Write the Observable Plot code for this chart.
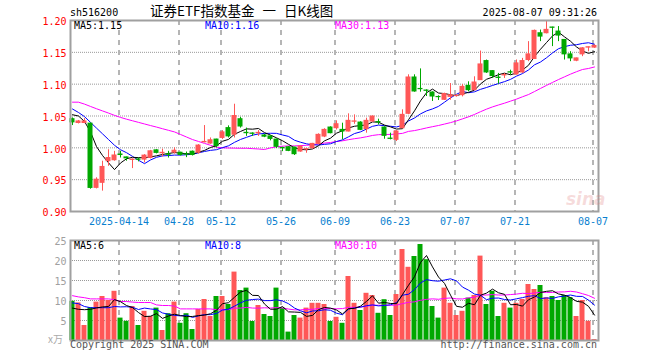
<!DOCTYPE html>
<html><head><meta charset="utf-8">
<script src="https://cdn.jsdelivr.net/npm/d3@7"></script>
<script src="https://cdn.jsdelivr.net/npm/@observablehq/plot@0.6"></script>
<style>
html,body{margin:0;padding:0;background:#fff;}
#wrap{position:relative;width:660px;height:360px;overflow:hidden;font-family:"DejaVu Sans Mono",monospace;font-size:10px;background:#fff;}
.t{position:absolute;white-space:pre;line-height:10px;}
#p1{position:absolute;left:0;top:0;}
#p2{position:absolute;left:0;top:230px;}
</style></head><body>
<div id="wrap">
  <div id="p1"></div>
  <div id="p2"></div>
</div>
<script>
// ---------- data ----------
const dates = ["04-01","04-02","04-03","04-07","04-08","04-09","04-10","04-11","04-14","04-15","04-16","04-17","04-18","04-21","04-22","04-23","04-24","04-25","04-28","04-29","04-30",
"05-06","05-07","05-08","05-09","05-12","05-13","05-14","05-15","05-16","05-19","05-20","05-21","05-22","05-23","05-26","05-27","05-28","05-29","05-30",
"06-03","06-04","06-05","06-06","06-09","06-10","06-11","06-12","06-13","06-16","06-17","06-18","06-19","06-20","06-23","06-24","06-25","06-26","06-27","06-30",
"07-01","07-02","07-03","07-04","07-07","07-08","07-09","07-10","07-11","07-14","07-15","07-16","07-17","07-18","07-21","07-22","07-23","07-24","07-25","07-28","07-29","07-30","07-31",
"08-01","08-04","08-05","08-06","08-07"];
const opens = [1.045,1.039,1.039,1.038,0.9371,0.945,0.979,0.9805,0.9895,0.985,0.981,0.9818,0.9815,0.9841,0.9961,0.9915,0.9896,0.9925,0.9923,0.9898,0.9939,
0.9923,1.0087,1.0067,1.013,1.0155,1.031,1.0206,1.045,1.0236,1.0225,1.0228,1.0195,1.018,1.013,0.9998,1.001,1.0004,0.9942,0.9975,
0.9994,1.0062,1.0177,1.0319,1.0308,1.0282,1.0256,1.041,1.0397,1.0293,1.0413,1.0405,1.0319,1.0145,1.0125,1.0308,1.0534,1.1105,1.0925,1.09,
1.0869,1.0799,1.0754,1.08,1.0813,1.0827,1.0974,1.0905,1.1063,1.1363,1.1205,1.1103,1.1137,1.1187,1.1153,1.1184,1.1379,1.1395,1.18,1.18,1.189,1.1826,1.1695,
1.1468,1.1368,1.1468,1.1574,1.1574];
const highs = [1.047,1.043,1.046,1.039,0.953,0.979,0.997,0.9945,0.9945,0.9855,0.9826,0.9841,0.9893,0.996,0.997,0.998,0.9945,1.0,0.993,0.9934,0.995,
1.005,1.035,1.0155,1.0135,1.027,1.0345,1.0685,1.048,1.031,1.0235,1.027,1.021,1.019,1.014,1.001,1.002,1.001,1.003,0.999,
1.007,1.022,1.03,1.033,1.0424,1.0387,1.0534,1.0518,1.041,1.0466,1.05,1.045,1.033,1.023,1.027,1.0597,1.1147,1.1147,1.124,1.0911,
1.088,1.0817,1.0859,1.101,1.0835,1.0995,1.1037,1.1116,1.152,1.1379,1.1212,1.1169,1.1169,1.122,1.138,1.1405,1.1668,1.185,1.185,1.1995,1.1895,1.1905,1.17,
1.151,1.141,1.1574,1.1584,1.1616];
const lows = [1.035,1.0375,1.038,0.935,0.9355,0.932,0.971,0.979,0.984,0.979,0.9674,0.978,0.9763,0.9826,0.9905,0.9857,0.984,0.99,0.9872,0.9846,0.9872,
0.99,1.0078,1.0055,1.0,1.013,1.0155,1.0155,1.031,1.018,1.018,1.018,1.016,1.011,0.999,0.994,0.994,0.988,0.993,0.9915,
0.998,1.005,1.016,1.022,1.028,1.0125,1.025,1.037,1.027,1.023,1.04,1.036,1.0135,1.0125,1.0099,1.03,1.052,1.0874,1.0874,1.0806,
1.0728,1.0743,1.0743,1.0748,1.08,1.08,1.088,1.0905,1.1063,1.1169,1.109,1.1,1.109,1.1142,1.1142,1.1169,1.1353,1.139,1.1668,1.179,1.159,1.1668,1.1379,
1.1353,1.1353,1.1432,1.151,1.1563];
const closes = [1.04,1.0415,1.0415,0.937,0.95,0.97,0.984,0.988,0.9887,0.9835,0.9815,0.9812,0.9878,0.9946,0.992,0.9922,0.989,0.9955,0.9887,0.9893,0.9887,
1.0036,1.0093,1.0119,1.0026,1.0243,1.018,1.05,1.0335,1.023,1.022,1.0235,1.0175,1.014,1.0016,0.9992,0.9952,0.99,1.002,0.998,
1.0062,1.0204,1.0282,1.023,1.0371,1.0256,1.0424,1.0415,1.0282,1.0424,1.0492,1.04,1.0188,1.014,1.0256,1.0518,1.1105,1.0885,1.0921,1.0895,
1.0806,1.0796,1.0845,1.0827,1.0818,1.0958,1.0905,1.1026,1.131,1.1184,1.1127,1.1098,1.1145,1.1182,1.1326,1.1363,1.1468,1.1837,1.1747,1.1853,1.1885,1.1763,1.1468,
1.1405,1.1405,1.1563,1.158,1.16];
const volumes = [9.8,9.4,3.75,8.2,9.6,11,10,12.3,5.6,4.8,8.5,3.75,7.3,6,8.1,2.5,6.7,9.6,4.3,6.7,2.75,
7.75,10.25,6,11,11,9,17.1,12.5,13.1,4.75,8.75,6.5,6,13.1,8.1,2.1,6.25,5.6,8.1,
9.3,9.3,9,4.75,5.8,4.3,16,9.3,7.5,11.8,11.25,6.8,10.2,6.25,11.5,22.75,18.3,21,24,20.2,
8.5,5.6,13.1,9.3,6.25,7.3,10.6,11.25,21.1,9,12.3,6,9.3,8.1,9.3,10.25,14,12.75,13.75,10.7,11,10,11.25,
10.7,6,10,4.8,0.25];
// moving-average values for days whose window reaches before 04-01
const priceMA5Head = [1.052,1.050,1.0415,1.025];
const priceMA10Head = [1.061,1.0555,1.049,1.040,1.031,1.022,1.013,1.004,0.997];
const priceMA30Head = [1.0717,1.0717,1.0687,1.065,1.0614,1.058,1.0546,1.051,1.0478,1.045,1.0425,1.040,1.0375,1.035,1.0326,1.030,1.0275,1.025,1.021,1.017,1.013,1.010,1.007,1.004,1.001,1.000,0.9997,0.9995,0.9993];
const volMA5Head = [8.1,7.8,7.7,7.8];
const volMA10Head = [9.4,9.2,8.5,8.2,8.2,8.2,8.2,8.5,8.4];
const volMA30Head = [11.2,10.9,10.7,10.4,10.4,10.4,10.4,10.2,9.75,9.75,9.6,9.5,9.5,9.5,8.9,8.75,8.75,8.6,7.9,7.9,7.9,7.9,7.9,7.9,7.7,7.7,7.7,8.1,8.1];

const priceTicks = [0.90,0.95,1.00,1.05,1.10,1.15,1.20];
const priceGrid = [0.95,1.00,1.05,1.10,1.15];
const volTicks = [5,10,15,20,25];
const volGrid = [5,10,15,20];
const dateTicks = ["04-14","04-28","05-12","05-26","06-09","06-23","07-07","07-21","08-07"];
const dateTickLabels = ["2025-04-14","04-28","05-12","05-26","06-09","06-23","07-07","07-21","08-07"];

const symbol = "sh516200";
const title = "证券ETF指数基金 一 日K线图";
const stamp = "2025-08-07 09:31:26";
const priceLegend = ["MA5:1.15","MA10:1.16","MA30:1.13"];
const volLegend = ["MA5:6","MA10:8","MA30:10"];
const unitLabel = "x万";
const copyright = "Copyright 2025 SINA.COM";
const url = "http://finance.sina.com.cn";

// ---------- derived ----------
const RED = "#ff5757", GREEN = "#00a800";
const n = dates.length;
const idx = d3.range(n);
function movingAvg(arr, k, head) {
  return arr.map((_, i) => i < k - 1 ? head[i] : d3.mean(arr.slice(i - k + 1, i + 1)));
}
const rows = idx.map(i => ({i, o: opens[i], h: highs[i], l: lows[i], c: closes[i], v: volumes[i], up: closes[i] >= opens[i]}));
const mk = (arr) => arr.map((y, i) => ({i, y}));
const pMA5 = mk(movingAvg(closes, 5, priceMA5Head));
const pMA10 = mk(movingAvg(closes, 10, priceMA10Head));
const pMA30 = mk(movingAvg(closes, 30, priceMA30Head));
const vMA5 = mk(movingAvg(volumes, 5, volMA5Head));
const vMA10 = mk(movingAvg(volumes, 10, volMA10Head));
const vMA30 = mk(movingAvg(volumes, 30, volMA30Head));
const tickIdx = dateTicks.map(d => dates.indexOf(d));
const xDomain = [-1/3, n - 1 + 2/3];
const half = 5/12;

const common = {
  width: 660, marginLeft: 70, marginRight: 62,
  x: {type: "linear", domain: xDomain, axis: null},
  style: {fontFamily: "DejaVu Sans Mono, monospace", fontSize: "10px", background: "transparent", overflow: "visible"}
};

const p1 = Plot.plot({
  ...common,
  height: 230, marginTop: 20, marginBottom: 19,
  y: {domain: [0.90, 1.20], axis: null},
  marks: [
    Plot.ruleY(priceGrid, {y: d => d, stroke: "#999", strokeDasharray: "1,1"}),
    Plot.ruleX(tickIdx, {x: d => d, stroke: "#b5b5b5", strokeWidth: 2, strokeDasharray: "5,5", dx: -1.5}),
    Plot.line(pMA30, {x: "i", y: "y", stroke: "#ff00ff", strokeWidth: 1}),
    Plot.line(pMA10, {x: "i", y: "y", stroke: "#0000ff", strokeWidth: 1}),
    Plot.line(pMA5, {x: "i", y: "y", stroke: "#000", strokeWidth: 1}),
    Plot.ruleX(rows, {x: "i", y1: "l", y2: "h", stroke: d => d.up ? RED : GREEN, strokeWidth: 1}),
    Plot.rect(rows, {x1: d => d.i - half, x2: d => d.i + half, y1: d => Math.min(d.o, d.c), y2: d => Math.max(d.o, d.c),
      fill: d => d.up ? RED : GREEN, insetTop: -0.5, insetBottom: -0.5}),
    Plot.frame({stroke: "#a0a0a0", strokeWidth: 2}),
    Plot.text(priceTicks, {x: xDomain[0], y: d => d, text: d => d.toFixed(2), textAnchor: "end", dx: -4, dy: 1.5, fill: "#f00"}),
    Plot.text(tickIdx, {x: d => d, y: 0.90, text: (d, j) => dateTickLabels[j], dy: 10, dx: -1.5, fill: "#0a7fcf"})
  ]
});
document.getElementById("p1").appendChild(p1);

const p2 = Plot.plot({
  ...common,
  height: 130, marginTop: 10, marginBottom: 20,
  y: {domain: [0, 25], axis: null},
  marks: [
    Plot.ruleY(volGrid, {y: d => d, stroke: "#999", strokeDasharray: "1,1"}),
    Plot.ruleX(tickIdx, {x: d => d, stroke: "#b5b5b5", strokeWidth: 2, strokeDasharray: "5,5", dx: -1.5}),
    Plot.rect(rows, {x1: d => d.i - half, x2: d => d.i + half, y1: 0, y2: "v", fill: d => d.up ? RED : GREEN}),
    Plot.line(vMA30, {x: "i", y: "y", stroke: "#ff00ff", strokeWidth: 1}),
    Plot.line(vMA10, {x: "i", y: "y", stroke: "#0000ff", strokeWidth: 1}),
    Plot.line(vMA5, {x: "i", y: "y", stroke: "#000", strokeWidth: 1}),
    Plot.frame({stroke: "#a0a0a0", strokeWidth: 2}),
    Plot.text(volTicks, {x: xDomain[0], y: d => d, text: d => String(d), textAnchor: "end", dx: -4, dy: 1, fill: "#a0a0a0"})
  ]
});
document.getElementById("p2").appendChild(p2);

// ---------- texts ----------
const wrap = document.getElementById("wrap");
function addText(txt, css) {
  const d = document.createElement("div");
  d.className = "t";
  d.textContent = txt;
  Object.assign(d.style, css);
  wrap.appendChild(d);
  return d;
}
addText(symbol, {left: "70px", top: "8px", color: "#000"});
addText(title, {left: "150px", top: "3px", fontFamily: "'Noto Sans CJK SC', sans-serif", fontSize: "13.5px", lineHeight: "14px", color: "#000", wordSpacing: "5px"});
addText(stamp, {right: "63px", top: "8px", color: "#000"});
const legendX = ["74px", "205px", "335px"];
const legendC = ["#000", "#0000ff", "#ff00ff"];
priceLegend.forEach((s, j) => addText(s, {left: legendX[j], top: "21px", color: legendC[j]}));
volLegend.forEach((s, j) => addText(s, {left: legendX[j], top: "241px", color: legendC[j]}));
addText(unitLabel, {right: "597px", top: "334px", color: "#aaa", fontFamily: "'Noto Sans CJK SC', 'DejaVu Serif', serif", fontSize: "10px"});
addText(copyright, {left: "70px", top: "340px", color: "#555"});
addText(url, {right: "63px", top: "340px", color: "#555"});
addText("sina", {left: "566px", top: "191px", color: "rgba(225,130,130,0.28)", fontFamily: "'DejaVu Sans', sans-serif", fontWeight: "bold", fontStyle: "italic", fontSize: "17px", lineHeight: "17px"});
</script>
</body></html>
